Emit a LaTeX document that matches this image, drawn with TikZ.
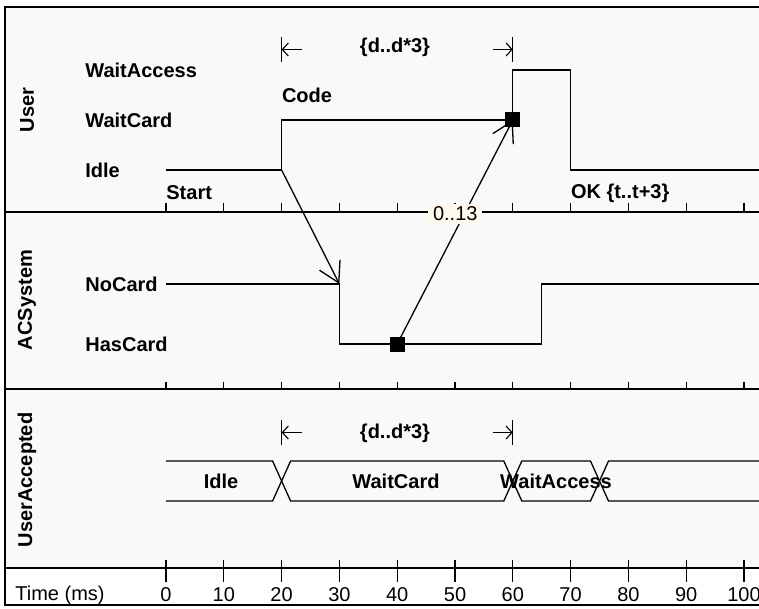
\documentclass[tikz,border=0pt]{standalone}
\usepackage{fontspec}
\setmainfont{Liberation Sans}
\usetikzlibrary{arrows.meta}
\definecolor{lanebg}{HTML}{F9F9F9}
\definecolor{notebg}{HTML}{FFF8EC}
\newcommand{\tx}[1]{166+5.78*#1}

\begin{document}
\begin{tikzpicture}[
    x=0.5pt, y=-0.5pt,
    sig/.style={line width=0.65pt},
    sep/.style={line width=0.6pt},
    tick/.style={line width=0.6pt},
    state/.style={font=\bfseries, anchor=west, inner sep=0pt},
    lane/.style={font=\bfseries, rotate=90, inner sep=0pt},
    evt/.style={font=\bfseries, anchor=west, inner sep=0pt},
    busl/.style={font=\bfseries, inner sep=0pt},
    num/.style={inner sep=0pt},
    msg/.style={line width=0.65pt, -{Straight Barb[length=10pt,width=11.5pt]}},
    dur/.style={line width=0.55pt, -{Straight Barb[length=3pt,width=6.5pt]}},
    sq/.style={fill=black, minimum size=7.5pt, inner sep=0pt},
    lbl/.style={fill=notebg, inner xsep=2.5pt, inner ysep=1.5pt}
  ]
  \useasboundingbox (0,0) rectangle (759,609);

  % lanes, frame and time axis
  \fill[lanebg] (5,7) rectangle (760,568);
  \draw[sep] (5,212) -- (760,212);
  \draw[sep] (5,389) -- (760,389);
  \draw[sep] (5,568) -- (760,568);
  \draw[line width=0.8pt] (760,7) -- (5,7) -- (5,605) -- (760,605);
  \foreach \i in {0,...,10} {
    \draw[tick] ({\tx{10*\i}},203) -- ({\tx{10*\i}},212);
    \draw[tick] ({\tx{10*\i}},382) -- ({\tx{10*\i}},389);
    \draw[tick] ({\tx{10*\i}},560) -- ({\tx{10*\i}},582);
    \pgfmathtruncatemacro{\ms}{10*\i}
    \node[num] (ms\i) at ({\tx{10*\i}},595) {\ms};
  }
  \node[num, anchor=west] (time) at (15,595) {Time (ms)};

  \node[lane] (user) at (27,110) {User};
  \node[lane] (acs) at (27,300) {ACSystem};
  \node[lane] (uacc) at (27,480) {UserAccepted};

  % User
  \node[state] (waitaccess) at (85,70) {WaitAccess};
  \node[state] (waitcard) at (85,120) {WaitCard};
  \node[state] (idle) at (85,170) {Idle};
  \coordinate (u20) at ({\tx{20}},170);
  \draw[sig] (166,170) -- (u20) -- ({\tx{20}},120) -- ({\tx{60}},120) -- ({\tx{60}},70)
    -- ({\tx{70}},70) -- ({\tx{70}},170) -- (760,170);
  \node[evt] (start) at (166,193) {Start};
  \node[evt] (code) at ({\tx{20}},95) {Code};
  \node[evt] (ok) at ({\tx{70}},193) {OK \{t..t+3\}};

  \node[font=\bfseries] (dtop) at (395,47) {\{d..d*3\}};
  \coordinate (dtl) at ({\tx{20}},49.5);
  \coordinate (dtr) at ({\tx{60}},49.5);
  \draw[sep] ([yshift=6.25pt]dtl) -- ([yshift=-6.25pt]dtl);
  \draw[sep] ([yshift=6.25pt]dtr) -- ([yshift=-6.25pt]dtr);
  \draw[dur] ([xshift=10pt]dtl) -- (dtl);
  \draw[dur] ([xshift=-10pt]dtr) -- (dtr);

  % ACSystem
  \node[state] (nocard) at (85,284) {NoCard};
  \node[state] (hascard) at (85,344) {HasCard};
  \coordinate (a30) at ({\tx{30}},284);
  \draw[sig] (166,284) -- (a30) -- ({\tx{30}},344) -- ({\tx{65}},344) -- ({\tx{65}},284) -- (760,284);
  \node[sq] (sqA) at ({\tx{40}},344) {};
  \node[sq] (sqB) at ({\tx{60}},120) {};

  % messages
  \draw[msg] (u20) -- (a30);
  \draw[msg] (sqA.center) -- (sqB.center) node[lbl, pos=0.58, xshift=-4.5pt] (mult) {0..13};

  % UserAccepted
  \draw[sig] (166,461) -- ({\tx{20}-9},461) -- ({\tx{20}+9},501) -- ({\tx{60}-9},501) -- ({\tx{60}+9},461)
    -- ({\tx{75}-9},461) -- ({\tx{75}+9},501) -- (760,501);
  \draw[sig] (166,501) -- ({\tx{20}-9},501) -- ({\tx{20}+9},461) -- ({\tx{60}-9},461) -- ({\tx{60}+9},501)
    -- ({\tx{75}-9},501) -- ({\tx{75}+9},461) -- (760,461);
  \node[busl] (uaidle) at (221,481) {Idle};
  \node[busl] (uawaitcard) at (396,481) {WaitCard};
  \node[busl] (uawaitaccess) at (556,481) {WaitAccess};

  \node[font=\bfseries] (dua) at (395,433) {\{d..d*3\}};
  \coordinate (dul) at ({\tx{20}},432.5);
  \coordinate (dur) at ({\tx{60}},432.5);
  \draw[sep] ([yshift=6.25pt]dul) -- ([yshift=-6.25pt]dul);
  \draw[sep] ([yshift=6.25pt]dur) -- ([yshift=-6.25pt]dur);
  \draw[dur] ([xshift=10pt]dul) -- (dul);
  \draw[dur] ([xshift=-10pt]dur) -- (dur);
\end{tikzpicture}
\end{document}
